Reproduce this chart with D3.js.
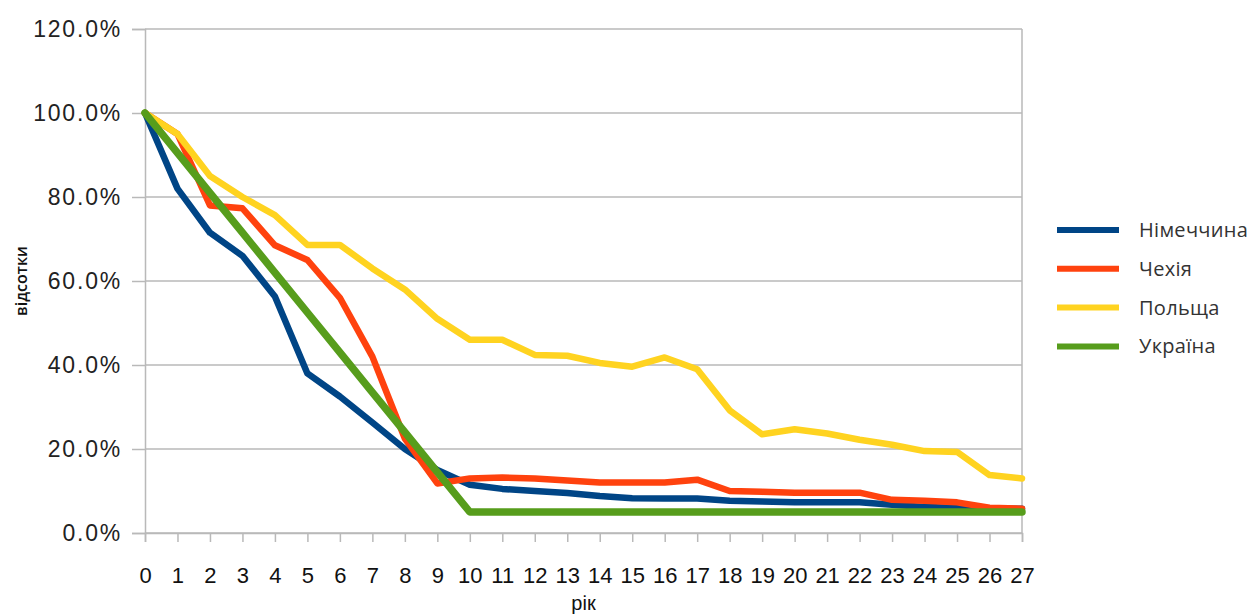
<!DOCTYPE html>
<html>
<head>
<meta charset="utf-8">
<script src="https://cdn.jsdelivr.net/npm/d3@7"></script>
<style>
  body { margin: 0; background: #ffffff; }
  svg { display: block; }
</style>
</head>
<body>
<svg id="chart" width="1255" height="616"></svg>
<script>
// Year since start (x categories)
const years = [0, 1, 2, 3, 4, 5, 6, 7, 8, 9, 10, 11, 12, 13, 14, 15, 16, 17, 18, 19, 20, 21, 22, 23, 24, 25, 26, 27];

// Y axis tick values, percent
const yTicks = [0, 20, 40, 60, 80, 100, 120];

// Series names as shown in the legend
const seriesNames = ["Німеччина", "Чехія", "Польща", "Україна"];

// Share remaining, percent, per year
const germany = [100, 82, 71.5, 66, 56.3, 38, 32.5, 26.3, 20, 15, 11.5, 10.5, 10, 9.5, 8.8, 8.3, 8.2, 8.2, 7.7, 7.5, 7.3, 7.3, 7.3, 6.7, 6.2, 6.0, 5.8, 5.8];
const czechia = [100, 95, 78, 77.3, 68.5, 65, 56, 42, 22.5, 11.8, 13, 13.2, 13, 12.5, 12, 12, 12, 12.7, 10, 9.8, 9.6, 9.6, 9.6, 7.9, 7.7, 7.3, 6, 5.8];
const poland  = [100, 95, 85, 80, 75.7, 68.6, 68.6, 63, 58, 51, 46, 46, 42.4, 42.2, 40.5, 39.6, 41.8, 39, 29.2, 23.5, 24.7, 23.7, 22.2, 21, 19.5, 19.3, 13.8, 13];
const ukraine = [100, 90.5, 81, 71.5, 62, 52.5, 43, 33.5, 24, 14.5, 5, 5, 5, 5, 5, 5, 5, 5, 5, 5, 5, 5, 5, 5, 5, 5, 5, 5];

const seriesColors = ["#004586", "#ff420e", "#ffd320", "#579d1c"];
const seriesWidths = [6.5, 6.5, 6.5, 7.5];
const seriesValues = [germany, czechia, poland, ukraine];

const svg = d3.select("#chart");
const plot = { left: 145, right: 1022, top: 29, bottom: 533 };

const x = d3.scalePoint().domain(years).range([plot.left, plot.right]);
const y = d3.scaleLinear().domain([0, 120]).range([plot.bottom, plot.top]);

const gridColor = "#b9b9b9";

// Horizontal gridlines
svg.append("g")
  .selectAll("line")
  .data(yTicks)
  .join("line")
  .attr("x1", plot.left).attr("x2", plot.right)
  .attr("y1", d => y(d)).attr("y2", d => y(d))
  .attr("stroke", gridColor).attr("stroke-width", 1.5);

// Right frame edge
svg.append("line")
  .attr("x1", plot.right).attr("x2", plot.right)
  .attr("y1", plot.top).attr("y2", plot.bottom)
  .attr("stroke", gridColor).attr("stroke-width", 1.5);

// Y axis
const yAxis = svg.append("g")
  .attr("transform", `translate(${plot.left},0)`)
  .call(d3.axisLeft(y).tickValues(yTicks).tickSize(13).tickPadding(10)
    .tickFormat(d => d.toFixed(1) + "%"));
yAxis.select(".domain").attr("stroke", gridColor).attr("stroke-width", 1.5);
yAxis.selectAll(".tick line").attr("stroke", gridColor).attr("stroke-width", 1.5);
yAxis.selectAll("text")
  .attr("fill", "#222")
  .style("font-family", "'Liberation Sans', Arial, sans-serif")
  .style("font-size", "23px")
  .style("letter-spacing", "1.8px");

// X axis
const xAxis = svg.append("g")
  .attr("transform", `translate(0,${plot.bottom})`)
  .call(d3.axisBottom(x).tickSize(9).tickPadding(25));
xAxis.select(".domain").attr("stroke", gridColor).attr("stroke-width", 1.5);
xAxis.selectAll(".tick line").attr("stroke", gridColor).attr("stroke-width", 1.5);
xAxis.selectAll("text")
  .attr("fill", "#111")
  .style("font-family", "'Liberation Sans', Arial, sans-serif")
  .style("font-size", "22px");

// Series lines
const line = d3.line()
  .x((d, i) => x(years[i]))
  .y(d => y(d));

svg.append("g")
  .selectAll("path")
  .data(seriesValues)
  .join("path")
  .attr("d", d => line(d))
  .attr("fill", "none")
  .attr("stroke", (d, i) => seriesColors[i])
  .attr("stroke-width", (d, i) => seriesWidths[i])
  .attr("stroke-linejoin", "round")
  .attr("stroke-linecap", "round");

// Axis titles
svg.append("text")
  .attr("x", (plot.left + plot.right) / 2)
  .attr("y", 610)
  .attr("text-anchor", "middle")
  .attr("fill", "#111")
  .style("font-family", "'Liberation Sans', Arial, sans-serif")
  .style("font-size", "20px")
  .text("рік");

svg.append("text")
  .attr("transform", `translate(27,${(plot.top + plot.bottom) / 2}) rotate(-90)`)
  .attr("text-anchor", "middle")
  .attr("fill", "#111")
  .style("font-family", "'Open Sans', 'Noto Sans', sans-serif")
  .style("font-size", "16px")
  .style("font-weight", "600")
  .text("відсотки");

// Legend
const legend = svg.append("g")
  .selectAll("g")
  .data(seriesNames)
  .join("g")
  .attr("transform", (d, i) => `translate(1057,${230 + i * 38.8})`);

legend.append("line")
  .attr("x1", 0).attr("x2", 62)
  .attr("y1", 0).attr("y2", 0)
  .attr("stroke", (d, i) => seriesColors[i])
  .attr("stroke-width", 6);

legend.append("text")
  .attr("x", 82)
  .attr("y", 0)
  .attr("dy", "0.35em")
  .attr("fill", "#333")
  .style("font-family", "'Open Sans', 'Noto Sans', sans-serif")
  .style("font-size", "20px")
  .style("letter-spacing", "0.3px")
  .text(d => d);
</script>
</body>
</html>
